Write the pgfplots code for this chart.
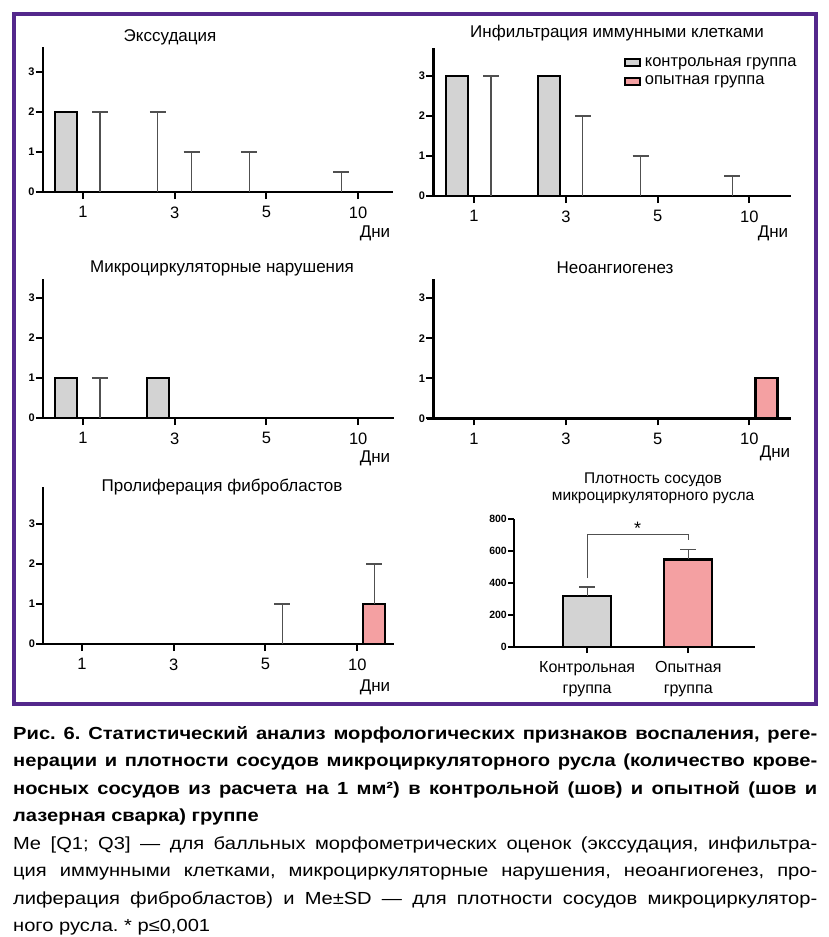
\documentclass[border=0pt]{standalone}
\usepackage{fontspec}
\setmainfont{Liberation Sans}
\newfontfamily\capfont{Liberation Sans}[FakeStretch=1.15]
\usepackage{pgfplots}
\pgfplotsset{compat=1.18}
\definecolor{frame}{RGB}{84,40,140}
\definecolor{ctrl}{RGB}{211,211,211}
\definecolor{expc}{RGB}{244,160,162}
\definecolor{errc}{RGB}{80,80,80}
\newcommand{\fs}[1]{\fontsize{#1}{#1}\selectfont}
\frenchspacing

\pgfplotsset{
  panel/.style={
    scale only axis, anchor=south west,
    axis lines=left, axis line style={-, line width=2.4pt},
    ymin=0, xtick={0,1,2,3}, xticklabels={1,3,5,10},
    ytick={0,1,2,3},
    tick align=outside, major tick length=7pt,
    tick style={line width=2pt, black},
    y tick label style={font=\bfseries\fs{11}, inner sep=1pt},
    x tick label style={font=\fs{16.5}, yshift=-4pt},
    /pgf/number format/assume math mode=true,
    clip=false,
  },
  cbar/.style={ybar, bar width=22pt, bar shift=0pt, fill=ctrl, draw=black, line width=2.4pt},
  ebar/.style={ybar, bar width=22pt, bar shift=0pt, fill=expc, draw=black, line width=2.4pt},
  err/.style={draw=none, mark=none, forget plot,
    error bars/.cd, y dir=plus, y explicit,
    error bar style={draw=errc, line width=1.2pt},
    error mark options={rotate=90, draw=errc, line width=1.2pt, mark size=8pt}},
  lgimg/.style={legend image code/.code={\draw[solid, line width=2pt, draw=black, fill=#1] (0pt,-3.5pt) rectangle (15pt,3.5pt); \node[draw=none, fill=none, inner sep=0pt, minimum size=0pt] at (19pt,0pt) {};}},
}
\newcommand{\xext}{\draw[line width=2.4pt] (rel axis cs:0,0) -- ++(-6pt,0pt);}

\begin{document}
\begin{tikzpicture}
\path[use as bounding box] (0pt,0pt) rectangle (829pt,-937pt);

% ---------- Panel 1: Экссудация
\begin{axis}[panel, at={(42.7pt,-192pt)}, width=350.3pt, height=145pt,
  xmin=-0.44, xmax=3.38, ymax=3.625]
\addplot[cbar] coordinates {(-0.185,2)};
\addplot[err] coordinates {(0.185,0) +- (0,2) (0.815,0) +- (0,2) (1.185,0) +- (0,1) (1.815,0) +- (0,1) (2.815,0) +- (0,0.5)};
\xext
\end{axis}

% ---------- Panel 2: Инфильтрация
\begin{axis}[panel, at={(433.3pt,-196pt)}, width=357.4pt, height=147.7pt,
  xmin=-0.444, xmax=3.45, ymax=3.69,
  legend style={at={(rel axis cs:0.532,0.945)}, anchor=north west, draw=none, fill=none,
    font=\fs{16.5}, inner sep=0pt, row sep=6pt, nodes={inner sep=1pt}},
  legend cell align=left]
\addlegendimage{lgimg=ctrl}
\addlegendentry{контрольная группа}
\addlegendimage{lgimg=expc}
\addlegendentry{опытная группа}
\addplot[cbar, forget plot] coordinates {(-0.185,3) (0.815,3)};
\addplot[err] coordinates {(0.185,0) +- (0,3) (1.185,0) +- (0,2) (1.815,0) +- (0,1) (2.815,0) +- (0,0.5)};
\xext
\end{axis}

% ---------- Panel 3: Микроциркуляторные нарушения
\begin{axis}[panel, at={(43pt,-418pt)}, width=351pt, height=139pt,
  xmin=-0.436, xmax=3.39, ymax=3.475]
\addplot[cbar] coordinates {(-0.185,1) (0.815,1)};
\addplot[err] coordinates {(0.185,0) +- (0,1)};
\xext
\end{axis}

% ---------- Panel 4: Неоангиогенез
\begin{axis}[panel, at={(433.3pt,-418.3pt)}, width=357.4pt, height=139.3pt,
  xmin=-0.444, xmax=3.45, ymax=3.48]
\addplot[ebar] coordinates {(3.185,1)};
\xext
\end{axis}

% ---------- Panel 5: Пролиферация фибробластов
\begin{axis}[panel, at={(43.3pt,-644pt)}, width=350.7pt, height=157pt,
  xmin=-0.42, xmax=3.4, ymax=3.92]
\addplot[ebar] coordinates {(3.185,1)};
\addplot[err] coordinates {(2.185,0) +- (0,1) (3.185,1) +- (0,1)};
\xext
\end{axis}

% ---------- Panel 6: Плотность сосудов
\begin{axis}[panel, at={(514pt,-647pt)}, width=241pt, height=128pt,
  xmin=-0.723, xmax=1.66, ymin=0, ymax=800,
  xtick={0,1}, xticklabels={Контрольная\\группа, Опытная\\группа},
  x tick label style={font=\fontsize{16}{21}\selectfont, align=center, yshift=-1pt},
  ytick={0,200,400,600,800},
  major tick length=6pt,
  y tick label style={font=\bfseries\fs{10.5}}]
\addplot[cbar, bar width=48pt] coordinates {(0,320)};
\addplot[ebar, bar width=48pt] coordinates {(1,548)};
\addplot[err] coordinates {(0,320) +- (0,55) (1,548) +- (0,62)};
\draw[errc, line width=1.1pt] (axis cs:0,430) |- (axis cs:1,706) -- (axis cs:1,668);
\node[font=\fs{18}] at (axis cs:0.5,745) {*};
\end{axis}

\begin{scope}[x=1pt, y=-1pt]
\draw[frame, line width=4pt] (14,14) rectangle (816,704);
\tikzset{ttl/.style={font=\fs{17}, inner sep=0pt}}
\node[ttl] at (170,37) {Экссудация};
\node[ttl] at (617,33) {Инфильтрация иммунными клетками};
\node[ttl] at (222,268) {Микроциркуляторные нарушения};
\node[ttl] at (615,268) {Неоангиогенез};
\node[ttl] at (222,487) {Пролиферация фибробластов};
\node[font=\fs{15.5}, inner sep=0pt] at (653,480) {Плотность сосудов};
\node[font=\fs{15.5}, inner sep=0pt] at (653,498) {микроциркуляторного русла};
\node[ttl] at (375,233) {Дни};
\node[ttl] at (773,233) {Дни};
\node[ttl] at (375,458) {Дни};
\node[ttl] at (775,453) {Дни};
\node[ttl] at (375,687) {Дни};

\tikzset{captxt/.style={anchor=base west, inner sep=0pt, font=\capfont\fs{17.5}}}
\node[captxt] at (13,739) {\bfseries\makebox[804pt][s]{Рис. 6. Статистический анализ морфологических признаков воспаления, реге-}};
\node[captxt] at (13,766.5) {\bfseries\makebox[804pt][s]{нерации и плотности сосудов микроциркуляторного русла (количество крове-}};
\node[captxt] at (13,794) {\bfseries\makebox[804pt][s]{носных сосудов из расчета на 1 мм²) в контрольной (шов) и опытной (шов и}};
\node[captxt] at (13,821.5) {\bfseries лазерная сварка) группе};
\node[captxt] at (13,849) {\makebox[804pt][s]{Me [Q1; Q3] — для балльных морфометрических оценок (экссудация, инфильтра-}};
\node[captxt] at (13,876.5) {\makebox[804pt][s]{ция иммунными клетками, микроциркуляторные нарушения, неоангиогенез, про-}};
\node[captxt] at (13,904) {\makebox[804pt][s]{лиферация фибробластов) и Me±SD — для плотности сосудов микроциркулятор-}};
\node[captxt] at (13,931.5) {ного русла. * p≤0,001};
\end{scope}
\end{tikzpicture}
\end{document}
